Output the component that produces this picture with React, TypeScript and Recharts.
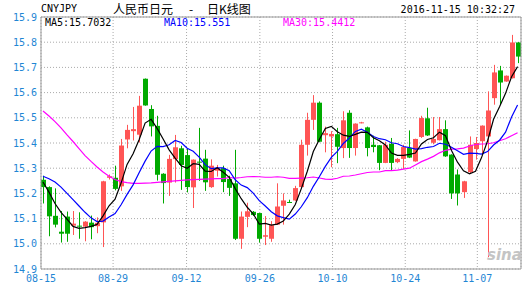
import React from 'react'
import { Bar, CartesianGrid, ComposedChart, Line, ReferenceLine, XAxis, YAxis } from 'recharts'

// daily K-line CNYJPY, 2016-08-15 .. 2016-11-15 (Mon-Sat sessions)
const openP = [
  15.254, 15.225, 15.111, 15.048, 15.108, 15.072, 15.072, 15.068, 15.084, 15.07,
  15.085, 15.262, 15.262, 15.228, 15.414, 15.447, 15.433, 15.655, 15.535, 15.468,
  15.278, 15.243, 15.336, 15.379, 15.352, 15.224, 15.326, 15.338, 15.225, 15.29,
  15.3, 15.257, 15.24, 15.02, 15.107, 15.127, 15.122, 15.028, 15.02, 15.076,
  15.151, 15.166, 15.172, 15.225, 15.393, 15.492, 15.56, 15.431, 15.426, 15.435,
  15.38, 15.52, 15.38, 15.48, 15.462, 15.393, 15.391, 15.321, 15.397, 15.324,
  15.337, 15.38, 15.327, 15.424, 15.498, 15.401, 15.411, 15.455, 15.354, 15.275,
  15.205, 15.284, 15.376, 15.407, 15.426, 15.578, 15.688, 15.644, 15.657, 15.799,
]
const highP = [
  15.27, 15.228, 15.22, 15.13, 15.128, 15.13, 15.125, 15.09, 15.112, 15.105,
  15.25, 15.275, 15.31, 15.416, 15.472, 15.543, 15.587, 15.656, 15.55, 15.508,
  15.28, 15.353, 15.432, 15.389, 15.38, 15.335, 15.46, 15.373, 15.335, 15.313,
  15.31, 15.27, 15.373, 15.128, 15.163, 15.13, 15.123, 15.11, 15.09, 15.24,
  15.2, 15.175, 15.23, 15.413, 15.52, 15.59, 15.565, 15.465, 15.447, 15.46,
  15.526, 15.53, 15.478, 15.484, 15.465, 15.429, 15.392, 15.405, 15.42, 15.34,
  15.393, 15.45, 15.417, 15.508, 15.54, 15.503, 15.503, 15.49, 15.355, 15.295,
  15.25, 15.426, 15.424, 15.47, 15.605, 15.71, 15.706, 15.668, 15.829, 15.8,
]
const lowP = [
  15.16, 15.03, 15.065, 15.005, 15.008, 15.035, 15.02, 15.01, 15.018, 15.042,
  14.987, 15.255, 15.212, 15.21, 15.379, 15.41, 15.402, 15.548, 15.426, 15.251,
  15.16, 15.19, 15.243, 15.214, 15.204, 15.142, 15.25, 15.21, 15.222, 15.267,
  15.205, 15.19, 15.015, 14.98, 15.066, 15.11, 15.005, 14.995, 15.008, 15.075,
  15.076, 15.162, 15.17, 15.22, 15.35, 15.452, 15.403, 15.363, 15.304, 15.32,
  15.34, 15.341, 15.35, 15.478, 15.347, 15.363, 15.292, 15.32, 15.292, 15.32,
  15.297, 15.34, 15.326, 15.42, 15.428, 15.395, 15.41, 15.345, 15.178, 15.152,
  15.182, 15.278, 15.334, 15.358, 14.947, 15.552, 15.552, 15.643, 15.656, 15.717,
]
const closeP = [
  15.225, 15.109, 15.076, 15.04, 15.04, 15.08, 15.07, 15.088, 15.066, 15.083,
  15.248, 15.268, 15.218, 15.39, 15.452, 15.455, 15.548, 15.549, 15.466, 15.274,
  15.241, 15.337, 15.383, 15.313, 15.225, 15.334, 15.322, 15.244, 15.31, 15.3,
  15.245, 15.222, 15.02, 15.108, 15.129, 15.114, 15.02, 15.034, 15.074, 15.148,
  15.172, 15.163, 15.221, 15.393, 15.492, 15.56, 15.405, 15.439, 15.436, 15.385,
  15.49, 15.38, 15.477, 15.482, 15.38, 15.384, 15.321, 15.393, 15.321, 15.337,
  15.384, 15.342, 15.416, 15.499, 15.43, 15.416, 15.455, 15.347, 15.2, 15.2,
  15.248, 15.393, 15.4, 15.469, 15.529, 15.68, 15.64, 15.667, 15.799, 15.743,
]
const ma5 = [
  15.245, 15.205, 15.16, 15.125, 15.098, 15.069, 15.061, 15.064, 15.069, 15.077,
  15.111, 15.151, 15.177, 15.241, 15.315, 15.357, 15.413, 15.479, 15.494, 15.458,
  15.416, 15.373, 15.34, 15.31, 15.3, 15.318, 15.315, 15.288, 15.287, 15.302,
  15.284, 15.264, 15.219, 15.179, 15.145, 15.119, 15.078, 15.081, 15.074, 15.078,
  15.09, 15.118, 15.156, 15.219, 15.288, 15.366, 15.414, 15.458, 15.466, 15.445,
  15.431, 15.426, 15.434, 15.443, 15.442, 15.421, 15.409, 15.392, 15.36, 15.351,
  15.351, 15.355, 15.36, 15.396, 15.414, 15.421, 15.443, 15.429, 15.37, 15.324,
  15.29, 15.278, 15.288, 15.342, 15.408, 15.494, 15.544, 15.597, 15.663, 15.703,
]
const ma10 = [
  15.268, 15.258, 15.245, 15.225, 15.2, 15.175, 15.15, 15.125, 15.103, 15.088,
  15.09, 15.106, 15.12, 15.155, 15.196, 15.234, 15.282, 15.328, 15.368, 15.387,
  15.386, 15.393, 15.41, 15.402, 15.379, 15.367, 15.344, 15.314, 15.298, 15.301,
  15.301, 15.29, 15.254, 15.233, 15.223, 15.201, 15.171, 15.15, 15.127, 15.111,
  15.104, 15.098, 15.118, 15.147, 15.183, 15.228, 15.266, 15.307, 15.343, 15.367,
  15.398, 15.42, 15.446, 15.455, 15.443, 15.426, 15.417, 15.413, 15.401, 15.397,
  15.386, 15.382, 15.376, 15.378, 15.383, 15.386, 15.399, 15.395, 15.383, 15.369,
  15.355, 15.36, 15.359, 15.356, 15.366, 15.392, 15.411, 15.443, 15.503, 15.551,
]
const ma30 = [
  15.527, 15.507, 15.485, 15.46, 15.432, 15.406, 15.378, 15.35, 15.327, 15.305,
  15.285, 15.268, 15.255, 15.247, 15.243, 15.24, 15.24, 15.241, 15.242, 15.244,
  15.246, 15.248, 15.25, 15.252, 15.254, 15.255, 15.256, 15.257, 15.258, 15.259,
  15.259, 15.263, 15.261, 15.263, 15.266, 15.267, 15.266, 15.264, 15.264, 15.266,
  15.264, 15.26, 15.26, 15.261, 15.262, 15.265, 15.261, 15.257, 15.256, 15.26,
  15.268, 15.269, 15.273, 15.278, 15.283, 15.285, 15.285, 15.29, 15.29, 15.292,
  15.296, 15.3, 15.313, 15.326, 15.336, 15.347, 15.361, 15.371, 15.376, 15.377,
  15.38, 15.388, 15.394, 15.396, 15.397, 15.401, 15.409, 15.417, 15.429, 15.441,
]

const xTickPos = [-0.33, 11.67, 23.9, 36.1, 48.2, 60.3, 72.3]
const xTickLabels = ['08-15', '08-29', '09-12', '09-26', '10-10', '10-24', '11-07']
const xDomain = [-0.33, 79.57]
const yTicks = [14.9, 15.0, 15.1, 15.2, 15.3, 15.4, 15.5, 15.6, 15.7, 15.8, 15.9]

const titleParts = [
  { text: '人民币日元', left: 113 },
  { text: '-', left: 189 },
  { text: '日K线图', left: 207 },
]

const legendItems = [
  { text: 'MA5:15.7032', color: '#000000', left: 45 },
  { text: 'MA10:15.551', color: '#0000ff', left: 164 },
  { text: 'MA30:15.4412', color: '#ff00ff', left: 283 },
]

const RED = '#ff5555'
const GREEN = '#00aa00'
const MONO = '"DejaVu Sans Mono", monospace'

const data = closeP.map((c, i) => ({
  i,
  open: openP[i],
  high: highP[i],
  low: lowP[i],
  close: c,
  ma5: ma5[i],
  ma10: ma10[i],
  ma30: ma30[i],
}))

const Candle = (props: any) => {
  const { x, y, width, height, payload } = props
  if (x == null || y == null) return null
  const { open, close, high, low } = payload
  const color = close >= open ? RED : GREEN
  const range = high - low
  const toY = (v: number) => (range === 0 ? y : y + ((high - v) / range) * height)
  const top = toY(Math.max(open, close))
  const bot = toY(Math.min(open, close))
  const cx = Math.floor(x + width / 2) + 0.5
  const left = Math.round(x + width / 2 - 2.5)
  return (
    <g>
      <line x1={cx} x2={cx} y1={y} y2={y + height} stroke={color} strokeWidth={1} />
      <rect x={left} y={top} width={5} height={Math.max(1, bot - top)} fill={color} />
    </g>
  )
}

export default function App() {
  return (
    <div style={{ position: 'absolute', left: 0, top: 0, width: 528, height: 285, background: '#fff', overflow: 'hidden' }}>
      <ComposedChart
        width={528}
        height={285}
        data={data}
        margin={{ top: 17, right: 7, bottom: 0, left: 0 }}
      >
        <CartesianGrid stroke="#aaaaaa" strokeDasharray="1 2" />
        <XAxis
          dataKey="i"
          type="number"
          domain={xDomain}
          ticks={xTickPos}
          allowDataOverflow
          height={16}
          tickSize={0}
          tickMargin={6}
          axisLine={{ stroke: '#999999' }}
          tick={{ fill: '#1f86d4', fontSize: 10, fontFamily: MONO }}
          tickFormatter={(v: number) => xTickLabels[xTickPos.indexOf(v)] ?? ''}
          interval={0}
        />
        <YAxis
          domain={[14.9, 15.9]}
          ticks={yTicks}
          width={41}
          tickSize={0}
          tickMargin={4}
          axisLine={{ stroke: '#999999' }}
          tick={{ fill: '#1f86d4', fontSize: 10, fontFamily: MONO }}
          tickFormatter={(v: number) => v.toFixed(1)}
          interval={0}
          allowDataOverflow
        />
        <ReferenceLine y={15.9} stroke="#999999" />
        <ReferenceLine x={xDomain[1]} stroke="#999999" />
        <Bar
          dataKey={(d: any) => [d.low, d.high]}
          barSize={5}
          shape={Candle}
          isAnimationActive={false}
        />
        <Line dataKey="ma30" type="linear" stroke="#ff00ff" strokeWidth={1.2} dot={false} isAnimationActive={false} />
        <Line dataKey="ma10" type="linear" stroke="#0000ff" strokeWidth={1.2} dot={false} isAnimationActive={false} />
        <Line dataKey="ma5" type="linear" stroke="#000000" strokeWidth={1.2} dot={false} isAnimationActive={false} />
      </ComposedChart>

      <div style={{ position: 'absolute', left: 41, top: 4, fontFamily: MONO, fontSize: 10, lineHeight: '10px', color: '#000' }}>
        CNYJPY
      </div>
      {titleParts.map(part => (
        <div
          key={part.text}
          style={{ position: 'absolute', left: part.left, top: 2, fontFamily: '"Noto Sans CJK SC", sans-serif', fontSize: 12, lineHeight: '14px', color: '#000' }}
        >
          {part.text}
        </div>
      ))}
      <div style={{ position: 'absolute', right: 13, top: 5, fontFamily: MONO, fontSize: 10, lineHeight: '10px', color: '#000' }}>
        2016-11-15 10:32:27
      </div>
      {legendItems.map(item => (
        <div
          key={item.text}
          style={{ position: 'absolute', left: item.left, top: 18, fontFamily: MONO, fontSize: 10, lineHeight: '10px', color: item.color }}
        >
          {item.text}
        </div>
      ))}
      <div style={{ position: 'absolute', left: 487, top: 248, fontFamily: '"DejaVu Sans", sans-serif', fontSize: 15, fontWeight: 'bold', fontStyle: 'italic', color: '#c4c4c4', lineHeight: '15px' }}>
        sina
      </div>
    </div>
  )
}
